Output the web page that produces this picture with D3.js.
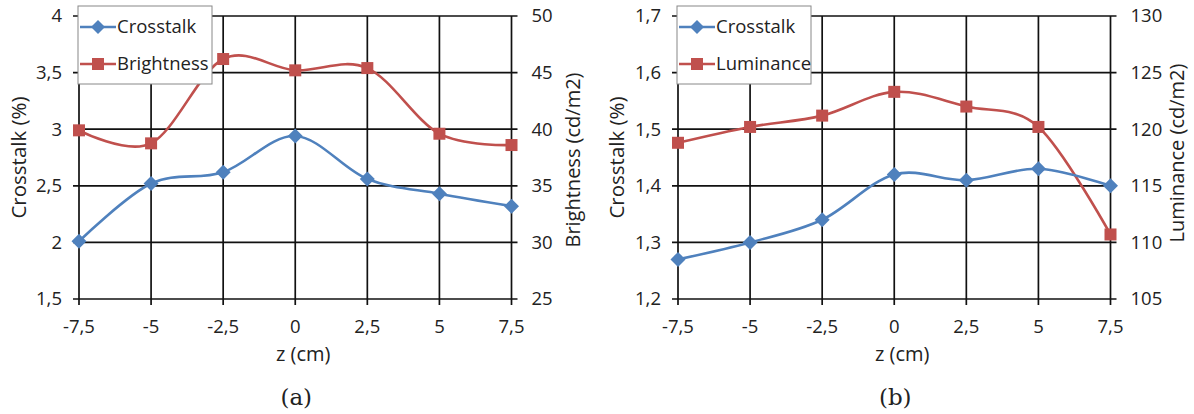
<!DOCTYPE html>
<html><head><meta charset="utf-8">
<script src="https://cdn.jsdelivr.net/npm/d3@7"></script>
<style>body{margin:0;background:#fff}svg{display:block}</style>
</head><body>
<svg id="chart" width="1194" height="414"></svg>
<script>
const zValues = [-7.5, -5, -2.5, 0, 2.5, 5, 7.5];
const xTickLabels = ["-7,5", "-5", "-2,5", "0", "2,5", "5", "7,5"];

const crosstalkA = [2.01, 2.52, 2.62, 2.94, 2.56, 2.43, 2.32];
const brightnessA = [39.9, 38.75, 46.2, 45.2, 45.4, 39.6, 38.6];
const crosstalkB = [1.27, 1.30, 1.34, 1.42, 1.41, 1.43, 1.40];
const luminanceB = [118.8, 120.2, 121.2, 123.3, 122.0, 120.2, 110.7];

const leftTicksA = [1.5, 2, 2.5, 3, 3.5, 4];
const rightTicksA = [25, 30, 35, 40, 45, 50];
const leftTicksB = [1.2, 1.3, 1.4, 1.5, 1.6, 1.7];
const rightTicksB = [105, 110, 115, 120, 125, 130];

const BLUE = "#4F81BD", RED = "#C0504D";
const FONT = "'Open Sans', sans-serif";
const fmt = v => String(v).replace(".", ",");

const svg = d3.select("#chart");

function drawPanel(cfg) {
  const g = svg.append("g");
  const x = d3.scaleLinear().domain([-7.5, 7.5]).range([cfg.x0, cfg.x1]);
  const yL = d3.scaleLinear().domain([cfg.leftTicks[0], cfg.leftTicks[cfg.leftTicks.length-1]]).range([299, 16]);
  const yR = d3.scaleLinear().domain([cfg.rightTicks[0], cfg.rightTicks[cfg.rightTicks.length-1]]).range([299, 16]);

  g.selectAll(".hg").data(cfg.leftTicks).join("line")
    .attr("x1", cfg.x0 - 6).attr("x2", cfg.x1 + 6)
    .attr("y1", d => yL(d)).attr("y2", d => yL(d))
    .attr("stroke", "#111").attr("stroke-width", 1.7);
  g.selectAll(".vg").data(zValues).join("line")
    .attr("x1", d => x(d)).attr("x2", d => x(d))
    .attr("y1", 16).attr("y2", 305)
    .attr("stroke", "#111").attr("stroke-width", 1.7);

  g.selectAll(".lt").data(cfg.leftTicks).join("text")
    .attr("x", cfg.x0 - 17).attr("y", d => yL(d)).attr("dy", "0.35em")
    .attr("text-anchor", "end").attr("font-family", FONT).attr("font-size", 18.5)
    .attr("fill", "#222").text(d => fmt(d));
  g.selectAll(".rt").data(cfg.rightTicks).join("text")
    .attr("x", cfg.x1 + 20).attr("y", d => yR(d)).attr("dy", "0.35em")
    .attr("text-anchor", "start").attr("font-family", FONT).attr("font-size", 18.5)
    .attr("fill", "#222").text(d => fmt(d));
  g.selectAll(".xt").data(zValues).join("text")
    .attr("x", d => x(d)).attr("y", 333)
    .attr("text-anchor", "middle").attr("font-family", FONT).attr("font-size", 18.5)
    .attr("fill", "#222").text((d, i) => xTickLabels[i]);

  g.append("text").attr("x", (cfg.x0 + cfg.x1) / 2 + 8).attr("y", 361)
    .attr("text-anchor", "middle").attr("font-family", FONT).attr("font-size", 20)
    .attr("fill", "#222").text("z (cm)");
  g.append("text").attr("transform", `translate(${cfg.leftTitleX},157.5) rotate(-90)`)
    .attr("dy", "0.35em").attr("text-anchor", "middle").attr("font-family", FONT).attr("font-size", 20.5)
    .attr("fill", "#222").text("Crosstalk (%)");
  g.append("text").attr("transform", `translate(${cfg.rightTitleX},${cfg.rightTitleY}) rotate(-90)`)
    .attr("dy", "0.35em").attr("text-anchor", "middle").attr("font-family", FONT).attr("font-size", 20)
    .attr("fill", "#222").text(cfg.rightName + " (cd/m2)");

  g.append("text").attr("x", (cfg.x0 + cfg.x1) / 2 + 1).attr("y", 405)
    .attr("text-anchor", "middle").attr("font-family", "'DejaVu Serif', serif").attr("font-size", 23)
    .attr("fill", "#222").text(cfg.caption);

  const line = d3.line().curve(d3.curveCardinal.tension(0));
  const ptsL = zValues.map((z, i) => [x(z), yL(cfg.crosstalk[i])]);
  const ptsR = zValues.map((z, i) => [x(z), yR(cfg.right[i])]);

  g.append("path").attr("d", line(ptsR)).attr("fill", "none").attr("stroke", RED).attr("stroke-width", 2.6);
  g.selectAll(".sq").data(ptsR).join("rect")
    .attr("x", d => d[0] - 6).attr("y", d => d[1] - 6).attr("width", 12).attr("height", 12)
    .attr("fill", RED);

  g.append("path").attr("d", line(ptsL)).attr("fill", "none").attr("stroke", BLUE).attr("stroke-width", 2.6);
  const diamond = (cx, cy, r) => `M${cx},${cy - r}L${cx + r},${cy}L${cx},${cy + r}L${cx - r},${cy}Z`;
  g.selectAll(".dm").data(ptsL).join("path")
    .attr("d", d => diamond(d[0], d[1], 7.5)).attr("fill", BLUE);

  const lx = cfg.x0 - 1, ly = 6, lw = 134, lh = 78;
  g.append("rect").attr("x", lx).attr("y", ly).attr("width", lw).attr("height", lh)
    .attr("fill", "#fff").attr("stroke", "#888").attr("stroke-width", 1);
  const rows = [{name: "Crosstalk", color: BLUE, shape: "d", y: 27},
                {name: cfg.rightName, color: RED, shape: "s", y: 64}];
  rows.forEach(r => {
    g.append("line").attr("x1", lx + 2).attr("x2", lx + 38).attr("y1", r.y).attr("y2", r.y)
      .attr("stroke", r.color).attr("stroke-width", 2.6);
    const cx = lx + 20;
    if (r.shape === "d") g.append("path").attr("d", diamond(cx, r.y, 7)).attr("fill", r.color);
    else g.append("rect").attr("x", cx - 6).attr("y", r.y - 6).attr("width", 12).attr("height", 12).attr("fill", r.color);
    g.append("text").attr("x", lx + 39).attr("y", r.y).attr("dy", "0.35em")
      .attr("font-family", FONT).attr("font-size", 18.5).attr("fill", "#222").text(r.name);
  });
}

drawPanel({x0: 79, x1: 511.5, leftTicks: leftTicksA, rightTicks: rightTicksA,
  crosstalk: crosstalkA, right: brightnessA, rightName: "Brightness",
  leftTitleX: 19, rightTitleX: 573, rightTitleY: 160, caption: "(a)"});
drawPanel({x0: 678, x1: 1110.5, leftTicks: leftTicksB, rightTicks: rightTicksB,
  crosstalk: crosstalkB, right: luminanceB, rightName: "Luminance",
  leftTitleX: 617, rightTitleX: 1177, rightTitleY: 153, caption: "(b)"});
</script>
</body></html>
